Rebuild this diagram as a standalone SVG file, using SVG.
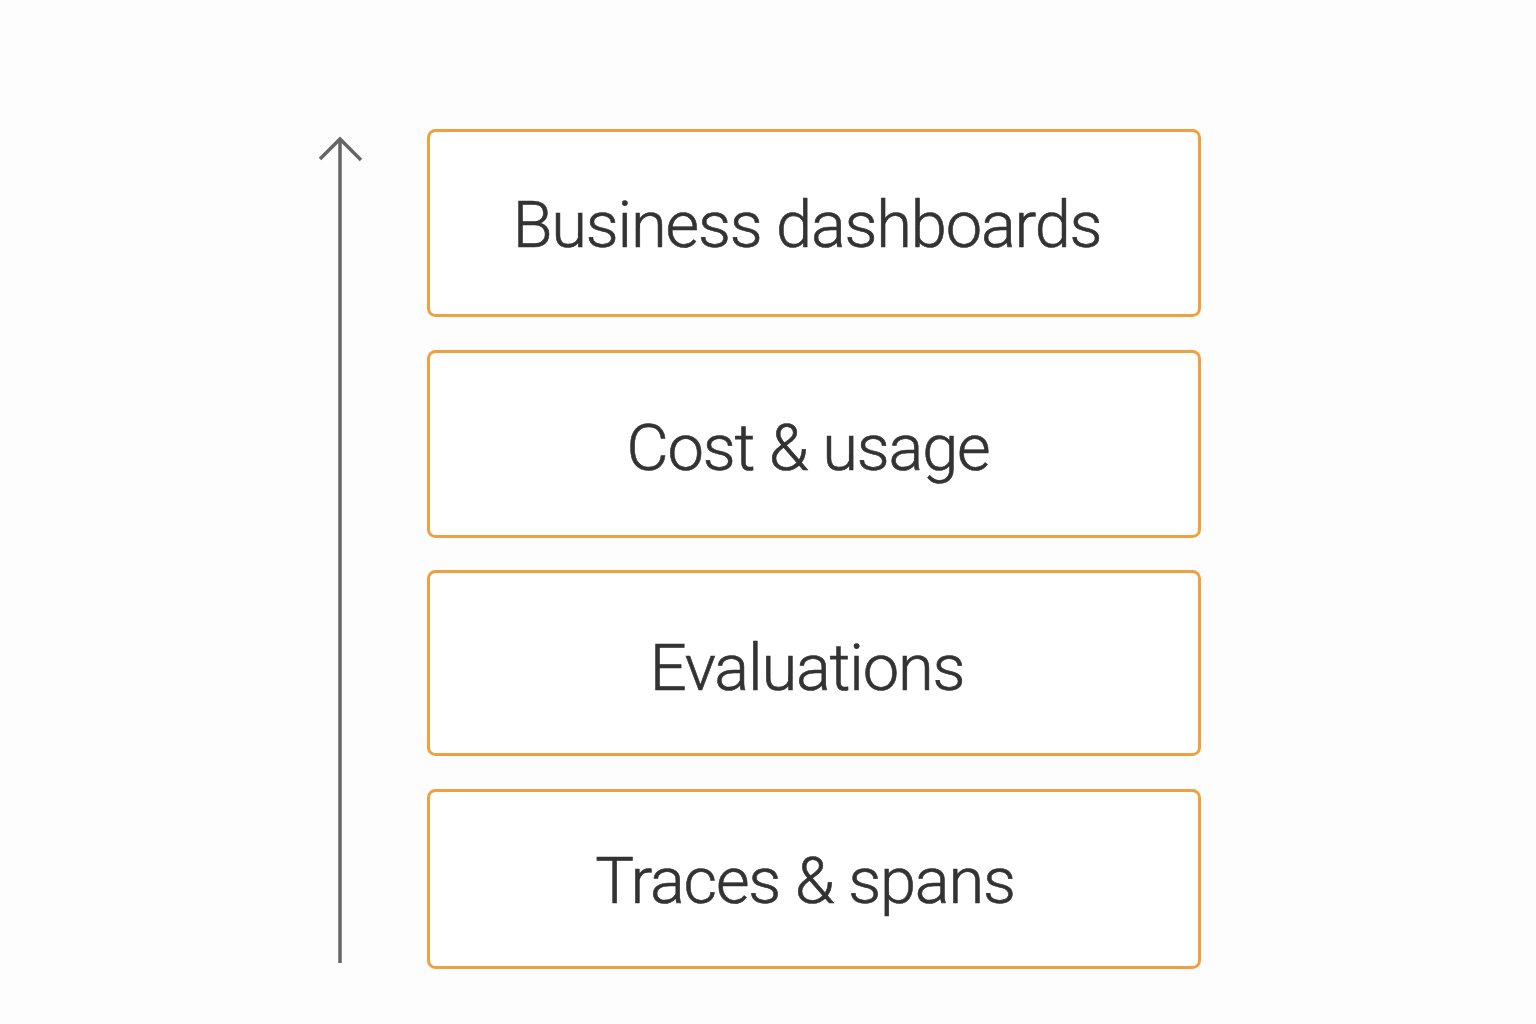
<svg xmlns="http://www.w3.org/2000/svg" width="1536" height="1024" viewBox="0 0 1536 1024">
<defs>
<style>
.box{fill:#FFFFFF;stroke:#F0A040;stroke-width:3}
.lbl{font-family:Roboto,"Liberation Sans",sans-serif;font-size:65px;font-weight:300;letter-spacing:-1.2px;fill:#333333;stroke:#333333;stroke-width:0.6;text-anchor:middle}
.axis{stroke:#666666;stroke-width:3.5;fill:none;stroke-linecap:butt;stroke-linejoin:miter}
</style>
</defs>
<rect width="1536" height="1024" fill="#FDFDFD"/>
<g id="connectors">
<path class="axis" d="M340 963 V139"/>
<path class="axis" d="M320 159 L340 139 L361 160"/>
</g>
<g id="node-business">
<rect class="box" x="428.5" y="130.5" width="771" height="185" rx="7"/>
<text class="lbl" x="807" y="247">Business dashboards</text>
</g>
<g id="node-cost">
<rect class="box" x="428.5" y="351.5" width="771" height="185" rx="7"/>
<text class="lbl" x="808" y="470">Cost &amp; usage</text>
</g>
<g id="node-evaluations">
<rect class="box" x="428.5" y="571.5" width="771" height="183" rx="7"/>
<text class="lbl" x="807" y="690">Evaluations</text>
</g>
<g id="node-traces">
<rect class="box" x="428.5" y="790.5" width="771" height="177" rx="7"/>
<text class="lbl" x="805" y="903">Traces &amp; spans</text>
</g>
</svg>
